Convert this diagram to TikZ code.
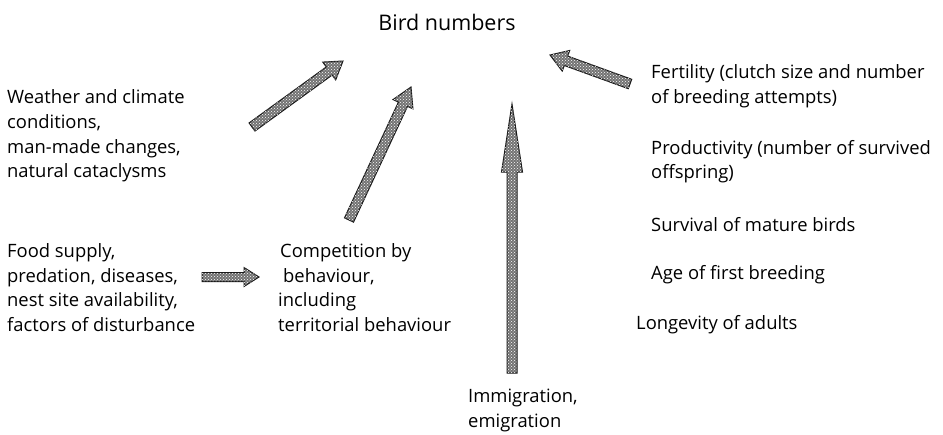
\documentclass[tikz,border=0pt]{standalone}
\usepackage{fontspec}
\setmainfont{Open Sans}
\usetikzlibrary{calc,patterns}
\tikzset{
  txt/.style={anchor=west, align=left, inner sep=0pt, font=\fontsize{18.4}{24.6}\selectfont},
  title/.style={inner sep=0pt, font=\fontsize{21.5}{24}\selectfont},
  barrow/.style={draw=black!90, line width=1pt, line join=miter, fill=black!55,
    postaction={pattern=crosshatch dots, pattern color=white}}
}
\newcommand\blockarrow[5]{%
  \coordinate (ba-n) at ($(#2)!#5!(#1)$);
  \draw[barrow] ($(#1)!#3!90:(#2)$) -- ($(ba-n)!#3!90:(#2)$) -- ($(ba-n)!#4!90:(#2)$) -- (#2)
    -- ($(ba-n)!#4!-90:(#2)$) -- ($(ba-n)!#3!-90:(#2)$) -- ($(#1)!#3!-90:(#2)$) -- cycle;}
\begin{document}
\begin{tikzpicture}[x=1pt,y=-1pt]
\useasboundingbox (0,0) rectangle (943,434);
\node[title] (bird) at (447,22) {Bird numbers};
\node[txt] (weather) at (7,136) {Weather and climate\\conditions,\\man-made changes,\\natural cataclysms};
\node[txt] (food) at (7,287.5) {Food supply,\\predation, diseases,\\nest site availability,\\factors of disturbance};
\node[txt] (comp) at (278,287.5) {\hspace{2pt}Competition by\\\hspace{5pt}behaviour,\\including\\territorial behaviour};
\node[txt] (fert) at (651,86) {Fertility (clutch size and number\\of breeding attempts)};
\node[txt] (prod) at (651,161.5) {Productivity (number of survived\\offspring)};
\node[txt] (surv) at (651,225) {Survival of mature birds};
\node[txt] (age) at (651,275) {Age of first breeding};
\node[txt] (long) at (636,325) {Longevity of adults};
\node[txt] (immi) at (468,410.5) {Immigration,\\emigration};
% arrow end points
\coordinate (a1s) at (252,127);
\coordinate (a1e) at (343,61);
\coordinate (a2s) at (349,220);
\coordinate (a2e) at (411,87);
\coordinate (a3s) at (512,373);
\coordinate (a3e) at (512,104);
\coordinate (a4s) at (630,84);
\coordinate (a4e) at (550,55);
\coordinate (a5s) at (202,277);
\coordinate (a5e) at (259,277);
\blockarrow{a1s}{a1e}{5pt}{11pt}{17pt}
\blockarrow{a2s}{a2e}{5pt}{11pt}{19pt}
\blockarrow{a3s}{a3e}{5pt}{10.5pt}{68pt}
\blockarrow{a4s}{a4e}{5pt}{11pt}{17pt}
\blockarrow{a5s}{a5e}{4.5pt}{9.5pt}{15pt}
\end{tikzpicture}
\end{document}
